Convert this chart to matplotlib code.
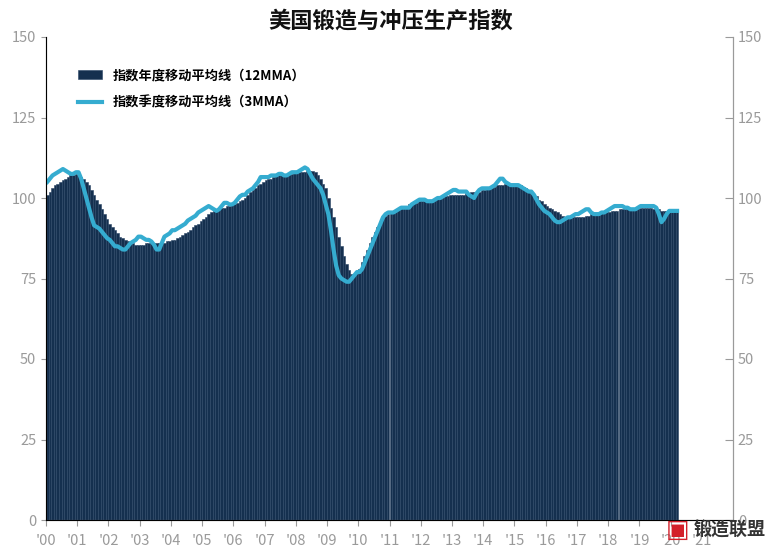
import numpy as np
import matplotlib.pyplot as plt

plt.rcParams['font.family'] = ['Noto Sans CJK SC', 'DejaVu Sans']

TITLE = "美国锻造与冲压生产指数"
LABEL_12MMA = "指数年度移动平均线（12MMA）"
LABEL_3MMA = "指数季度移动平均线（3MMA）"
YEAR_LABELS = ["'%02d" % y for y in range(0, 22)]
Y_TICKS = [0, 25, 50, 75, 100, 125, 150]

# monthly values, Jan 2000 .. Mar 2020
mma12 = [
    101, 102, 103, 104, 104.5, 105, 105.5, 106, 106.5, 107, 107, 107.5,
    107, 106.5, 106, 105, 104, 102.5, 101, 99.5, 98, 96.5, 95, 93.5,
    92, 91, 90, 89, 88, 87.5, 87, 86.5, 86, 86, 85.5, 85.5,
    85.5, 85.5, 86, 86, 86, 86, 86, 86, 86, 86, 86.5, 86.5,
    87, 87, 87.5, 88, 88.5, 89, 89.5, 90, 91, 91.5, 92, 93,
    93.5, 94, 95, 95.5, 96, 96.5, 97, 97, 97, 97.5, 97.5, 98,
    98, 98.5, 99, 99.5, 100, 101, 102, 102.5, 103, 104, 104.5, 105,
    105.5, 106, 106, 106.5, 107, 107, 107, 107, 107, 107.5, 107.5, 108,
    108, 108, 108, 108, 108.5, 108.5, 108.5, 108, 107, 106, 104.5, 103,
    100, 97, 94, 91, 88, 85, 82, 79.5, 77.5, 76.5, 76.5, 77,
    78, 80, 82, 84, 86, 88, 89.5, 91, 92.5, 93.5, 94.5, 95,
    95.5, 96, 96.5, 97, 97, 97.5, 97.5, 98, 98, 98.5, 98.5, 99,
    99, 99, 99.5, 99.5, 99.5, 100, 100, 100, 100.5, 100.5, 100.5, 101,
    101, 101, 101, 101, 101, 101.5, 101.5, 102, 102, 102, 102, 102.5,
    102.5, 103, 103, 103.5, 103.5, 104, 104, 104, 104.5, 104.5, 104.5, 104.5,
    104.5, 104, 104, 103.5, 103, 102.5, 102, 101, 100.5, 99.5, 99, 98,
    97.5, 97, 96.5, 96, 95.5, 95, 94.5, 94, 94, 94, 94, 94,
    94, 94, 94, 94.5, 94.5, 95, 95, 95, 95, 95.5, 95.5, 95.5,
    95.5, 96, 96, 96, 96.5, 96.5, 96.5, 97, 97, 97, 97, 97,
    97, 97, 97, 97, 97, 96.5, 96.5, 96.5, 96, 96, 96, 96,
    96, 96, 96,
]

mma3 = [
    105, 106, 107, 107.5, 108, 108.5, 109, 108.5, 108, 107.5, 107.5, 108,
    108, 106, 103, 100, 97, 94, 91.5, 91, 90.5, 89.5, 88.5, 87.5,
    87, 86, 85, 85, 84.5, 84, 84, 85, 86, 86.5, 87, 88,
    88, 87.5, 87, 87, 86.5, 85.5, 84, 84, 86, 88, 88.5, 89,
    90, 90, 90.5, 91, 91.5, 92, 93, 93.5, 94, 94.5, 95.5, 96,
    96.5, 97, 97.5, 97, 96.5, 96, 96.5, 97.5, 98.5, 98.5, 98, 98,
    98.5, 99.5, 100.5, 101, 101, 102, 102.5, 103, 104, 105, 106.5, 106.5,
    106.5, 106.5, 107, 107, 107, 107.5, 107.5, 107, 107, 107.5, 108, 108,
    108, 108.5, 109, 109.5, 109, 107.5, 106, 105, 104, 103, 101, 98,
    95, 90, 84, 79, 76, 75, 74.5, 74, 74, 75, 76, 77,
    77, 78, 80, 82, 84, 86, 88, 90, 92, 94, 95, 95.5,
    95.5, 95.5, 96, 96.5, 97, 97, 97, 97, 98, 98.5, 99, 99.5,
    99.5, 99.5, 99, 99, 99, 99.5, 100, 100, 100.5, 101, 101.5, 102,
    102.5, 102.5, 102, 102, 102, 102, 101, 100.5, 100, 101.5, 102.5, 103,
    103, 103, 103, 103.5, 104, 105, 106, 106, 105, 104.5, 104, 104,
    104, 104, 103.5, 103, 102.5, 102, 102, 101, 99.5, 98, 97, 96,
    95.5, 95, 94, 93, 92.5, 92.5, 93, 93.5, 94, 94, 94.5, 95,
    95, 95.5, 96, 96.5, 96.5, 95.5, 95, 95, 95, 95.5, 95.5, 96,
    96.5, 97, 97.5, 97.5, 97.5, 97.5, 97, 97, 96.5, 96.5, 96.5, 97,
    97.5, 97.5, 97.5, 97.5, 97.5, 97.5, 97, 95, 92.5, 93.5, 95, 96,
    96, 96, 96,
]

BAR_COLOR = "#15304f"
LINE_COLOR = "#35acd0"
TICK_COLOR = "#9a9a9a"

t = 2000 + (np.arange(len(mma12)) + 0.5) / 12

fig = plt.figure(figsize=(7.81, 5.54), dpi=100)
ax = fig.add_axes([46 / 781, 34 / 554, 687 / 781, 483 / 554])
bars = ax.bar(t, mma12, width=1 / 12, color=BAR_COLOR, edgecolor="#2a4566",
              linewidth=0.4, label=LABEL_12MMA, zorder=2)
line, = ax.plot(t, mma3, color=LINE_COLOR, lw=3, label=LABEL_3MMA, zorder=3)

ax.set_xlim(2000, 2022)
ax.set_ylim(0, 150)
ax.set_yticks(Y_TICKS)
ax.set_xticks(np.arange(2000, 2022))
ax.set_xticklabels(YEAR_LABELS)
ax.tick_params(colors=TICK_COLOR, labelcolor=TICK_COLOR, labelsize=10.5)
ax.tick_params(axis="x", length=4, pad=6)
ax.spines["top"].set_visible(False)
for side in ["left", "right", "bottom"]:
    ax.spines[side].set_color(TICK_COLOR)

ax2 = ax.twinx()
ax2.set_ylim(0, 150)
ax2.set_yticks(Y_TICKS)
ax2.tick_params(colors=TICK_COLOR, labelcolor=TICK_COLOR, labelsize=10.5,
                direction="in", length=6)
ax2.spines["top"].set_visible(False)
ax2.spines["right"].set_color(TICK_COLOR)

ax2.legend([bars, line], [LABEL_12MMA, LABEL_3MMA], loc="upper left",
           bbox_to_anchor=(0.03, 0.96), frameon=False,
           prop={"size": 9.5, "weight": "bold"}, handlelength=1.8,
           labelspacing=1.0)

fig.text(0.5, 0.962, TITLE, ha="center", va="center", fontsize=16,
         fontweight="bold", color="#111111")

# logo
fig.text(0.853, 0.043, "▣", ha="left", va="center", fontsize=18, color="#d3202a",
         family=["DejaVu Sans"])
fig.text(0.888, 0.043, "锻造联盟", ha="left", va="center", fontsize=13,
         fontweight="bold", color="#333333")

fig.savefig("out.png", dpi=100)
